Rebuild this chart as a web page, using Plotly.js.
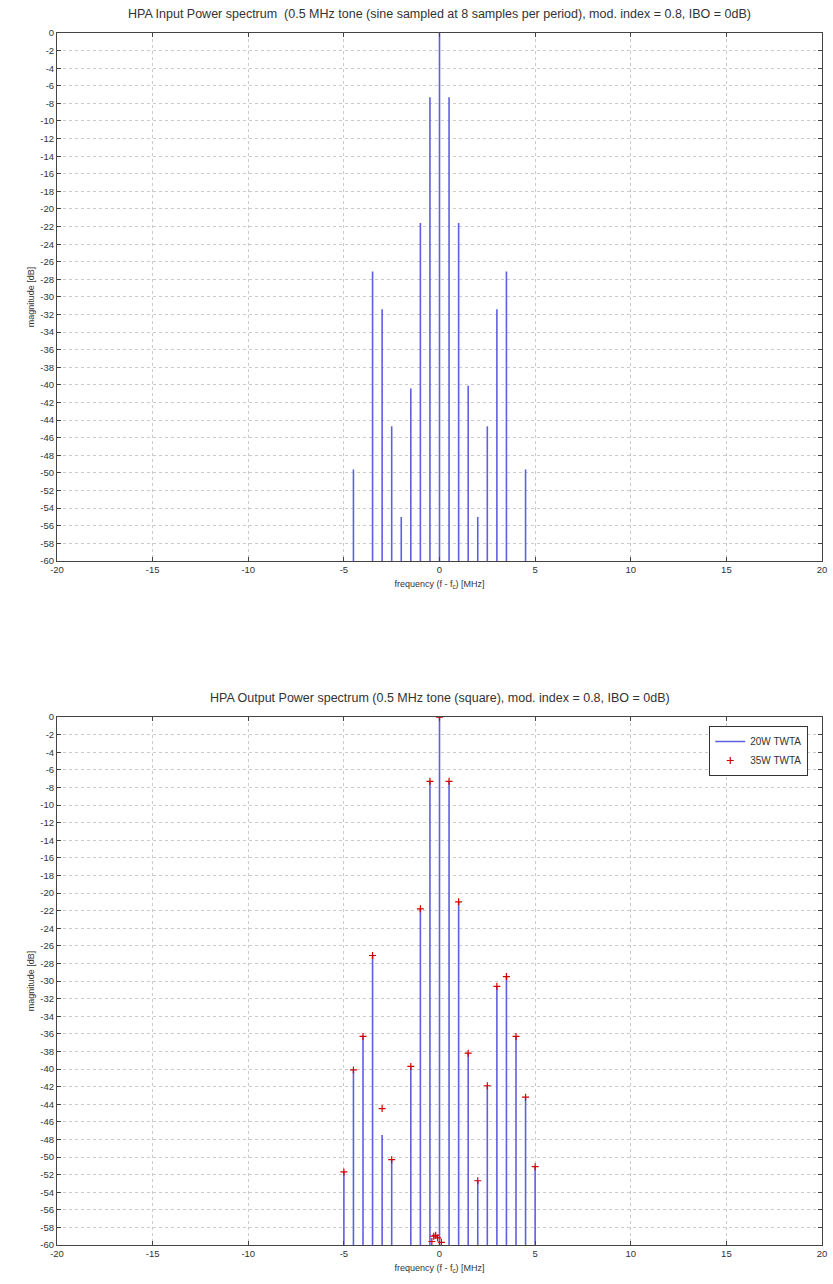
<!DOCTYPE html>
<html><head><meta charset="utf-8">
<script src="https://cdn.plot.ly/plotly-3.0.1.min.js"></script>
<style>html,body{margin:0;padding:0;background:#fff}#chart{width:833px;height:1284px}</style>
</head><body><div id="chart"></div><script>
// ---- Data ----
// Input spectrum (top panel)
const inputFreqs = [-4.5, -3.5, -3.0, -2.5, -2.0, -1.5, -1.0, -0.5, 0, 0.5, 1.0, 1.5, 2.0, 2.5, 3.0, 3.5, 4.5];
const inputDb    = [-49.6, -27.1, -31.4, -44.7, -55.0, -40.4, -21.6, -7.3, 0, -7.3, -21.6, -40.1, -55.0, -44.7, -31.4, -27.1, -49.6];

// Output spectrum (bottom panel), 20W TWTA (blue line stems)
const out20Freqs = [-5.0, -4.5, -4.0, -3.5, -3.0, -2.5, -1.5, -1.0, -0.5, 0, 0.5, 1.0, 1.5, 2.0, 2.5, 3.0, 3.5, 4.0, 4.5, 5.0];
const out20Db    = [-51.7, -40.1, -36.3, -27.1, -47.5, -50.3, -39.7, -21.8, -7.3, 0, -7.3, -21.0, -38.2, -52.7, -41.9, -30.6, -29.5, -36.3, -43.2, -51.1];

// Output spectrum (bottom panel), 35W TWTA (red + markers)
const out35Freqs = [-5.0, -4.5, -4.0, -3.5, -3.0, -2.5, -1.5, -1.0, -0.5, -0.4, -0.3, -0.2, -0.1, 0, 0.1, 0.5, 1.0, 1.5, 2.0, 2.5, 3.0, 3.5, 4.0, 4.5, 5.0];
const out35Db    = [-51.7, -40.1, -36.3, -27.1, -44.5, -50.3, -39.7, -21.8, -7.3, -59.6, -59.0, -58.9, -59.2, 0, -59.7, -7.3, -21.0, -38.2, -52.7, -41.9, -30.6, -29.5, -36.3, -43.2, -51.1];

// Axis ticks
const xTickVals = [-20, -15, -10, -5, 0, 5, 10, 15, 20];
const yTickVals = [];
for (let v = 0; v >= -60; v -= 2) yTickVals.push(v);
const yTickText = yTickVals.map(v => String(v));
const xTickText = xTickVals.map(v => String(v));

const topTitle = 'HPA Input Power spectrum  (0.5 MHz tone (sine sampled at 8 samples per period), mod. index = 0.8, IBO = 0dB)';
const bottomTitle = 'HPA Output Power spectrum (0.5 MHz tone (square), mod. index = 0.8, IBO = 0dB)';
const xTitle = 'frequency (f - f<sub>c</sub>) [MHz]';
const yTitle = 'magnitude [dB]';

// ---- Build stem line geometry from data ----
const FLOOR = -60;
function stems(fs, vs) {
  const x = [], y = [];
  fs.forEach((f, i) => { x.push(f, f, null); y.push(FLOOR, vs[i], null); });
  return {x, y};
}
const sTop = stems(inputFreqs, inputDb);
const sBot = stems(out20Freqs, out20Db);
const stemColor = 'rgb(95,95,225)';
const FONT = 'Liberation Sans, Arial, sans-serif';

const traces = [
  {x: sTop.x, y: sTop.y, type: 'scatter', mode: 'lines', xaxis: 'x', yaxis: 'y',
   line: {color: stemColor, width: 1.6}, showlegend: false, hoverinfo: 'skip'},
  {x: sBot.x, y: sBot.y, type: 'scatter', mode: 'lines', xaxis: 'x2', yaxis: 'y2',
   name: '20W TWTA', line: {color: stemColor, width: 1.6}},
  {x: out35Freqs, y: out35Db, type: 'scatter', mode: 'markers', xaxis: 'x2', yaxis: 'y2',
   name: '35W TWTA', marker: {symbol: 'cross-thin', size: 5, color: 'red', line: {color: 'rgb(210,0,0)', width: 1.2}}}
];

const tickFont = {family: FONT, size: 9.5, color: '#333'};
const titleFont = {family: FONT, size: 9, color: '#333'};
function xAxis(anchor) {
  return {anchor: anchor, range: [-20, 20], tickvals: xTickVals, ticktext: xTickText,
    showgrid: true, gridcolor: '#cacaca', griddash: 'dot', gridwidth: 1,
    zeroline: false, showline: true, linecolor: '#444', linewidth: 1, mirror: 'allticks',
    ticks: 'inside', ticklen: 4, tickcolor: '#444', tickfont: tickFont,
    title: {text: xTitle, font: titleFont, standoff: 6}};
}
function yAxis(anchor, domain) {
  return {anchor: anchor, domain: domain, range: [-60, 0], tickvals: yTickVals, ticktext: yTickText,
    showgrid: true, gridcolor: '#cacaca', griddash: 'dot', gridwidth: 1,
    zeroline: false, showline: true, linecolor: '#444', linewidth: 1, mirror: 'allticks',
    ticks: 'inside', ticklen: 4, tickcolor: '#444', tickfont: tickFont,
    title: {text: yTitle, font: titleFont, standoff: 4}};
}

const layout = {
  width: 833, height: 1284,
  margin: {l: 57, r: 11, t: 33, b: 39},
  paper_bgcolor: '#fff', plot_bgcolor: '#fff',
  font: {family: FONT, color: '#333'},
  title: {text: topTitle, font: {family: FONT, size: 12.5, color: '#333'},
          xref: 'paper', x: 0.5, xanchor: 'center', yref: 'container', y: 1 - 14/1284, yanchor: 'middle'},
  xaxis: xAxis('y'),
  yaxis: yAxis('x', [0.5644, 1]),
  xaxis2: xAxis('y2'),
  yaxis2: yAxis('x2', [0, 0.4356]),
  annotations: [{text: bottomTitle, xref: 'paper', yref: 'paper', x: 0.5, y: (1245 - 698) / 1212,
    xanchor: 'center', yanchor: 'middle', showarrow: false,
    font: {family: FONT, size: 12.5, color: '#333'}}],
  showlegend: true,
  legend: {x: 0.982, xanchor: 'right', y: (1245 - 726) / 1212, yanchor: 'top',
    bgcolor: '#fff', bordercolor: '#333', borderwidth: 1,
    font: {family: FONT, size: 10, color: '#333'},
    tracegroupgap: 0, itemwidth: 30}
};

Plotly.newPlot('chart', traces, layout, {staticPlot: true, displayModeBar: false});
</script></body></html>
